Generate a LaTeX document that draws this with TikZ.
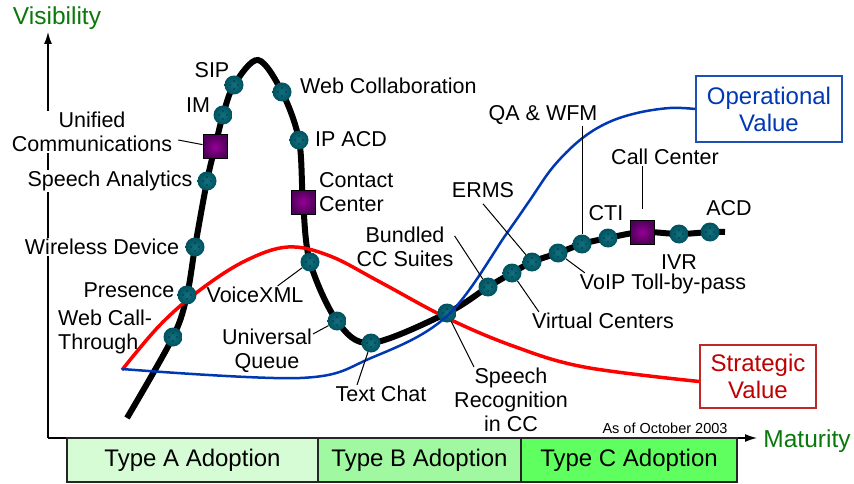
\documentclass[tikz,border=0pt]{standalone}
\usepackage{fontspec}
\setmainfont{Liberation Sans}
\usetikzlibrary{arrows.meta}
\definecolor{tealin}{RGB}{18,112,126}
\definecolor{tealout}{RGB}{0,82,96}
\definecolor{purplein}{RGB}{150,0,150}
\definecolor{purpleout}{RGB}{80,0,90}
\definecolor{axisgreen}{RGB}{10,120,10}
\definecolor{adoptA}{RGB}{214,252,214}
\definecolor{adoptB}{RGB}{160,248,160}
\definecolor{adoptC}{RGB}{96,255,96}
\definecolor{opblue}{RGB}{0,56,180}
\definecolor{opframe}{RGB}{30,80,180}
\definecolor{stred}{RGB}{190,0,0}
\definecolor{stframe}{RGB}{190,40,40}
\begin{document}
\begin{tikzpicture}[x=1pt,y=-1pt,
    tech/.style={circle,minimum size=19pt,inner sep=0pt,inner color=tealin,outer color=tealout,
      path picture={\foreach \dx/\dy in {0/4,-4/0,4/0,0/-4}
        \fill[black] ([shift={(\dx pt,\dy pt)}]path picture bounding box.center) circle (0.7pt);}},
    prod/.style={rectangle,minimum size=24pt,inner sep=0pt,draw=black,line width=1pt,
      inner color=purplein,outer color=purpleout},
    lbl/.style={font=\fontsize{21.5}{24}\selectfont,inner sep=1pt,align=center},
    axlbl/.style={font=\fontsize{24.5}{28}\selectfont,text=axisgreen,inner sep=0pt},
    lead/.style={line width=1pt},
    adopt/.style={draw=black!85,line width=1.2pt,minimum height=44pt,inner sep=0pt,
      font=\fontsize{24}{28}\selectfont},
    valbox/.style={draw,line width=1.5pt,fill=white,align=center,inner sep=0pt,
      font=\fontsize{24}{27}\selectfont}]
  \useasboundingbox (0,0) rectangle (854,484);
  % axes
  \coordinate (O) at (48,438);
  \coordinate (vtop) at (48,32);
  \coordinate (htip) at (757,438);
  \draw[line width=1.3pt,-{Latex[length=12pt,width=8pt]}] (O) -- (vtop);
  \draw[line width=1.3pt,-{Latex[length=12pt,width=8pt]}] (O) -- (htip);
  \node[axlbl] (vis) at (57,18) {Visibility};
  \node[axlbl] (mat) at (807,441) {Maturity};
  \node[font=\fontsize{14.5}{16}\selectfont,inner sep=0pt] (asof) at (665,428) {As of October 2003};
  % adoption bands
  \node[adopt,fill=adoptA,minimum width=251pt] (ta) at (192.5,460) {Type A Adoption};
  \node[adopt,fill=adoptB,minimum width=203pt] (tb) at (419.5,460) {Type B Adoption};
  \node[adopt,fill=adoptC,minimum width=216pt] (tc) at (629,460) {Type C Adoption};
  % value boxes
  \node[valbox,draw=opframe,text=opblue,minimum width=146pt,minimum height=66pt] (opval) at (769,109) {Operational\\Value};
  \node[valbox,draw=stframe,text=stred,minimum width=116pt,minimum height=63pt] (stval) at (758,376.5) {Strategic\\Value};
  % points of the hype curve
  \coordinate (st) at (127,418);
  \coordinate (wct) at (173,337);
  \coordinate (pr) at (187,295);
  \coordinate (wd) at (195,247);
  \coordinate (sa) at (207,181);
  \coordinate (uc) at (215,147);
  \coordinate (im) at (223,115);
  \coordinate (sip) at (234,85);
  \coordinate (pk) at (258,60);
  \coordinate (wc) at (282,92);
  \coordinate (ipacd) at (299,140);
  \coordinate (ctc) at (303,202);
  \coordinate (vx) at (310,262);
  \coordinate (uq) at (337,321);
  \coordinate (tch) at (371,343);
  \coordinate (sr) at (447,313);
  \coordinate (bc) at (488,287);
  \coordinate (vc) at (512,273);
  \coordinate (er) at (532,262);
  \coordinate (vo) at (558,253);
  \coordinate (qa) at (582,244);
  \coordinate (cti) at (608,238);
  \coordinate (cc) at (642,232);
  \coordinate (ivr) at (679,234);
  \coordinate (acd) at (710,232);
  \coordinate (en) at (725,232);
  \draw[line width=6pt] plot[smooth,tension=0.55] coordinates {(st) (wct) (pr) (wd) (sa) (uc) (im) (sip) (pk)
    (wc) (ipacd) (ctc) (vx) (uq) (tch) (sr) (bc) (vc) (er) (vo) (qa) (cti) (cc) (ivr) (acd) (en)};
  % strategic value
  \draw[red,line width=3.5pt] plot[smooth,tension=0.6] coordinates {(122,370) (160,325) (200,290) (245,261)
    (288,247) (330,256) (380,282) (447,318) (513,346) (584,367) ([yshift=-5pt]stval.west)};
  % technologies
  \foreach \t in {wct,pr,wd,sa,im,sip,wc,ipacd,vx,uq,tch,sr,bc,vc,er,vo,qa,cti,ivr,acd}
    \node[tech] (\t) at (\t) {};
  \node[prod] (uc) at (uc) {};
  \node[prod] (ctc) at (ctc) {};
  \node[prod] (cc) at (cc) {};
  % operational value
  \draw[opblue,line width=2.5pt] plot[smooth,tension=0.6] coordinates {(122,369) (300,378) (371,358) (447,316)
    (507,233) (530,200) (553,167) (580,140) (607,123) (637,113) (670,108) (opval.west)};
  % labels
  \node[lbl] (sipl) at (212,70) {SIP};
  \node[lbl] (iml) at (198,105) {IM};
  \node[lbl,fill=white] (ucl) at (92,132) {Unified\\Communications};
  \node[lbl,fill=white] (sal) at (110,181) {Speech Analytics};
  \node[lbl,fill=white] (wdl) at (102,247) {Wireless Device};
  \node[lbl] (prl) at (129,290) {Presence};
  \node[lbl,align=left,anchor=west] (wctl) at (57,332) {Web Call-\\Through};
  \node[lbl,anchor=west] (wcl) at (299,86) {Web Collaboration};
  \node[lbl,anchor=west] (ipl) at (314,139) {IP ACD};
  \node[lbl,align=left,anchor=west] (ctcl) at (318,192) {Contact\\Center};
  \node[lbl] (vxl) at (255,295) {VoiceXML};
  \node[lbl] (uql) at (267,351) {Universal\\Queue};
  \node[lbl] (tchl) at (381,394) {Text Chat};
  \node[lbl] (srl) at (511,400) {Speech\\Recognition\\in CC};
  \node[lbl] (bcl) at (405,247) {Bundled\\CC Suites};
  \node[lbl] (erl) at (483,190) {ERMS};
  \node[lbl] (qal) at (543,115) {QA \& WFM};
  \node[lbl] (ctil) at (606,213) {CTI};
  \node[lbl] (ccl) at (665,157) {Call Center};
  \node[lbl] (acdl) at (729,208) {ACD};
  \node[lbl] (ivrl) at (679,262) {IVR};
  \node[lbl] (vol) at (663,284) {VoIP Toll-by-pass};
  \node[lbl] (vcl) at (603,321) {Virtual Centers};
  % leaders
  \draw[lead] ([xshift=5pt,yshift=-8pt]ucl.east) -- (uc);
  \draw[lead] ([xshift=-27pt]vxl.north east) -- (vx);
  \draw[lead] ([yshift=-6pt]uql.north east) -- (uq);
  \draw[lead] ([xshift=-24pt]tchl.north) -- (tch);
  \draw[lead] ([xshift=-37pt]srl.north) -- (sr);
  \draw[lead] ([yshift=-10pt]bcl.north east) -- (bc);
  \draw[lead] ([yshift=-5pt]erl.south) -- (er);
  \draw[lead] (qal.south -| qa) -- (qa);
  \draw[lead] (ccl.south -| cc) -- ([yshift=11pt]cc.north);
  \draw[lead] (vo) -- ([xshift=6pt]vol.north west);
  \draw[lead] (vc) -- ([xshift=8pt]vcl.north west);
\end{tikzpicture}
\end{document}
